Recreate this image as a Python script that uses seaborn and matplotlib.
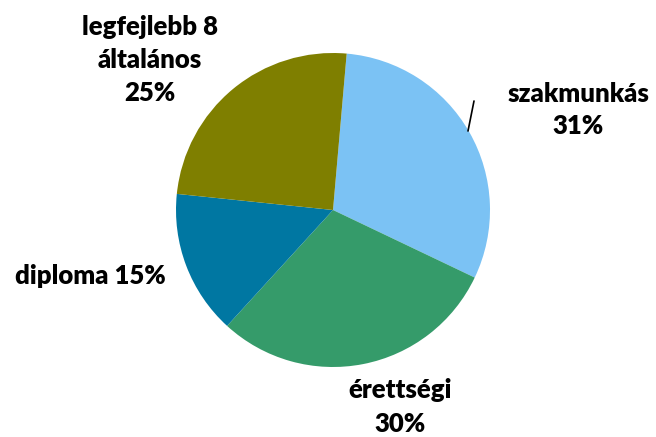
import matplotlib
matplotlib.use("Agg")
import matplotlib.pyplot as plt
import seaborn as sns

categories = ["szakmunkás", "érettségi", "diploma", "legfejlebb 8 általános"]
values = [31, 30, 15, 25]
labels = ["szakmunkás\n31%", "érettségi\n30%", "diploma 15%", "legfejlebb 8\náltalános\n25%"]
colors = ["#7BC2F4", "#359B6A", "#0077A2", "#7F7F00"]

sns.set_theme(style="white")
plt.rcParams['font.family'] = ['Lato', 'DejaVu Sans']

fig = plt.figure(figsize=(6.56, 4.37), dpi=100)
ax = fig.add_axes([0, 0, 1, 1])

pal = sns.color_palette(colors)
ax.pie(values, colors=pal, startangle=85, counterclock=False,
       center=(333, 437 - 210), radius=157, frame=True,
       wedgeprops=dict(linewidth=0))
ax.set_xlim(0, 656)
ax.set_ylim(0, 437)
ax.set_aspect('equal')
ax.axis('off')

label_pos = [(578, 437 - 110), (400, 437 - 407), (90, 437 - 276), (150, 437 - 60)]
for lab, (x, y) in zip(labels, label_pos):
    ax.text(x, y, lab, ha='center', va='center', fontsize=18.5, fontweight='heavy',
            color='black', linespacing=1.45)

ax.plot([468, 474], [437 - 131, 437 - 101], color='black', lw=1.2)

fig.savefig("out.png", dpi=100)
